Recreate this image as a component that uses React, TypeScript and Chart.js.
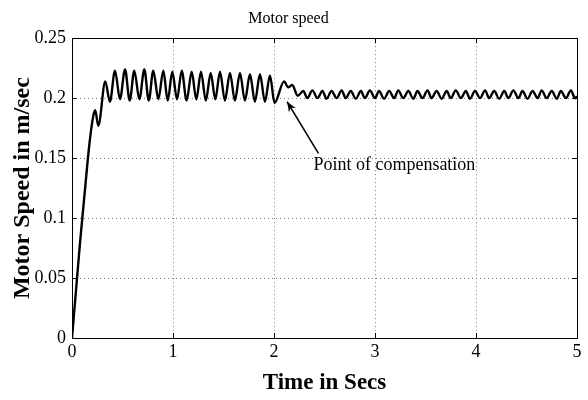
import React, { useEffect, useRef } from "react";
import { Chart, registerables } from "chart.js";

Chart.register(...registerables);

// Time (s) of each read point of the motor speed trace
const timeSecs: number[] = [
  0, 0.03, 0.08, 0.13, 0.17, 0.21, 0.23, 0.26, 0.33, 0.375, 0.426,
  0.475, 0.525, 0.571, 0.617, 0.667, 0.716, 0.76, 0.805, 0.855, 0.904,
  0.948, 0.993, 1.04, 1.086, 1.135, 1.185, 1.231, 1.277, 1.325, 1.373,
  1.419, 1.465, 1.514, 1.564, 1.613, 1.663, 1.712, 1.762, 1.811, 1.861,
  1.91, 1.96, 2.005, 2.1, 2.14, 2.18, 2.235,
  2.29, 2.33, 2.38, 2.43, 2.48, 2.52, 2.57, 2.62, 2.67, 2.71, 2.76, 2.81,
  2.86, 2.9, 2.95, 3.0, 3.04, 3.09, 3.14, 3.19, 3.23, 3.28, 3.33, 3.38,
  3.42, 3.47, 3.52, 3.56, 3.61, 3.66, 3.71, 3.75, 3.8, 3.85, 3.9, 3.94,
  3.99, 4.04, 4.09, 4.13, 4.18, 4.23, 4.28, 4.32, 4.37, 4.42, 4.46, 4.51,
  4.56, 4.61, 4.65, 4.7, 4.75, 4.8, 4.84, 4.89, 4.94, 4.98, 5.0,
];

// Motor speed (m/sec) at each of those times
const speedValues: number[] = [
  0, 0.03, 0.08, 0.125, 0.16, 0.185, 0.19, 0.177, 0.214, 0.197, 0.223,
  0.199, 0.224, 0.198, 0.223, 0.199, 0.224, 0.198, 0.223, 0.199, 0.223,
  0.198, 0.222, 0.199, 0.223, 0.198, 0.222, 0.199, 0.222, 0.198, 0.221,
  0.199, 0.222, 0.198, 0.221, 0.198, 0.221, 0.198, 0.22, 0.197, 0.22,
  0.197, 0.219, 0.196, 0.214, 0.209, 0.211, 0.202,
  0.206, 0.2, 0.2065, 0.2, 0.206, 0.1995, 0.206, 0.2, 0.2065, 0.2, 0.206, 0.1995,
  0.206, 0.2, 0.2065, 0.2, 0.206, 0.1995, 0.206, 0.2, 0.2065, 0.2, 0.206, 0.1995,
  0.206, 0.2, 0.2065, 0.2, 0.206, 0.1995, 0.206, 0.2, 0.2065, 0.2, 0.206, 0.1995,
  0.206, 0.2, 0.2065, 0.2, 0.206, 0.1995, 0.206, 0.2, 0.2065, 0.2, 0.206, 0.1995,
  0.206, 0.2, 0.2065, 0.2, 0.206, 0.1995, 0.206, 0.2, 0.2065, 0.2, 0.2015,
];

const xTicks: number[] = [0, 1, 2, 3, 4, 5];
const yTicks: number[] = [0, 0.05, 0.1, 0.15, 0.2, 0.25];
const yTickLabels: string[] = ["0", "0.05", "0.1", "0.15", "0.2", "0.25"];

const chartTitle = "Motor speed";
const xAxisTitle = "Time in Secs";
const yAxisTitle = "Motor Speed in m/sec";

const annotationText = "Point of compensation";
const annotationTextAt = { x: 2.39, y: 0.144 };
const arrowTail = { x: 2.44, y: 0.154 };
const arrowHead = { x: 2.13, y: 0.197 };

const SERIF = "'Liberation Serif', 'Times New Roman', serif";

const matlabFrame = {
  id: "matlabFrame",
  afterDatasetsDraw(chart: any) {
    const { ctx, chartArea, scales } = chart;
    const { left, right, top, bottom } = chartArea;
    const xs = scales.x;
    const ys = scales.y;
    ctx.save();
    // inward ticks
    ctx.strokeStyle = "#000";
    ctx.lineWidth = 1;
    ctx.beginPath();
    const tl = 5;
    xTicks.forEach((v) => {
      const px = Math.round(xs.getPixelForValue(v)) + 0.5;
      ctx.moveTo(px, bottom);
      ctx.lineTo(px, bottom - tl);
      ctx.moveTo(px, top);
      ctx.lineTo(px, top + tl);
    });
    yTicks.forEach((v) => {
      const py = Math.round(ys.getPixelForValue(v)) + 0.5;
      ctx.moveTo(left, py);
      ctx.lineTo(left + tl, py);
      ctx.moveTo(right, py);
      ctx.lineTo(right - tl, py);
    });
    ctx.stroke();
    // box
    ctx.strokeRect(Math.round(left) + 0.5, Math.round(top) + 0.5, Math.round(right - left), Math.round(bottom - top));

    // annotation arrow
    const x1 = xs.getPixelForValue(arrowTail.x);
    const y1 = ys.getPixelForValue(arrowTail.y);
    const x2 = xs.getPixelForValue(arrowHead.x);
    const y2 = ys.getPixelForValue(arrowHead.y);
    ctx.lineWidth = 1.5;
    ctx.beginPath();
    ctx.moveTo(x1, y1);
    ctx.lineTo(x2, y2);
    ctx.stroke();
    const ang = Math.atan2(y2 - y1, x2 - x1);
    const hl = 11;
    const hw = 0.38;
    ctx.beginPath();
    ctx.moveTo(x2, y2);
    ctx.lineTo(x2 - hl * Math.cos(ang - hw), y2 - hl * Math.sin(ang - hw));
    ctx.lineTo(x2 - hl * 0.6 * Math.cos(ang), y2 - hl * 0.6 * Math.sin(ang));
    ctx.lineTo(x2 - hl * Math.cos(ang + hw), y2 - hl * Math.sin(ang + hw));
    ctx.closePath();
    ctx.fillStyle = "#000";
    ctx.fill();

    ctx.font = `18px ${SERIF}`;
    ctx.textAlign = "left";
    ctx.textBaseline = "middle";
    ctx.fillText(annotationText, xs.getPixelForValue(annotationTextAt.x), ys.getPixelForValue(annotationTextAt.y));
    ctx.restore();
  },
};

export default function App() {
  const ref = useRef<HTMLCanvasElement | null>(null);
  useEffect(() => {
    if (!ref.current) return;
    const points = timeSecs.map((t, i) => ({ x: t, y: speedValues[i] }));
    const chart = new Chart(ref.current, {
      type: "line",
      data: {
        datasets: [
          {
            label: "Motor speed",
            data: points,
            borderColor: "#000",
            borderWidth: 2.4,
            pointRadius: 0,
            fill: false,
            cubicInterpolationMode: "monotone",
          },
        ],
      },
      options: {
        responsive: false,
        animation: false,
        layout: { padding: { left: 0, right: 11, top: 0, bottom: 0 } },
        plugins: {
          legend: { display: false },
          tooltip: { enabled: false },
          title: {
            display: true,
            text: chartTitle,
            color: "#000",
            font: { family: SERIF, size: 16, weight: "normal" },
            padding: { top: 9, bottom: 10 },
          },
        },
        scales: {
          x: {
            type: "linear",
            min: 0,
            max: 5,
            afterFit: (s: any) => {
              s.height = 62;
            },
            afterBuildTicks: (s: any) => {
              s.ticks = xTicks.map((v) => ({ value: v }));
            },
            ticks: {
              color: "#000",
              font: { family: SERIF, size: 18 },
              padding: 3,
              maxRotation: 0,
            },
            grid: { color: "#777", lineWidth: 1, drawTicks: false },
            border: { display: false, dash: [1, 3] },
            title: {
              display: true,
              text: xAxisTitle,
              color: "#000",
              font: { family: SERIF, size: 23, weight: "bold" },
              padding: { top: 0, bottom: 3 },
            },
          },
          y: {
            type: "linear",
            min: 0,
            max: 0.25,
            afterFit: (s: any) => {
              s.width = 72;
            },
            afterBuildTicks: (s: any) => {
              s.ticks = yTicks.map((v) => ({ value: v }));
            },
            ticks: {
              color: "#000",
              font: { family: SERIF, size: 18 },
              padding: 6,
              callback: (v: any) => {
                const i = yTicks.findIndex((t) => Math.abs(t - Number(v)) < 1e-9);
                return i >= 0 ? yTickLabels[i] : "";
              },
            },
            grid: { color: "#777", lineWidth: 1, drawTicks: false },
            border: { display: false, dash: [1, 3] },
            title: {
              display: true,
              text: yAxisTitle,
              color: "#000",
              font: { family: SERIF, size: 24, weight: "bold" },
              padding: { top: 8, bottom: 0 },
            },
          },
        },
      },
      plugins: [matlabFrame],
    });
    return () => chart.destroy();
  }, []);
  return (
    <div style={{ position: "fixed", left: 0, top: 0, width: 588, height: 400, background: "#fff" }}>
      <canvas ref={ref} width={588} height={400} style={{ display: "block" }} />
    </div>
  );
}
